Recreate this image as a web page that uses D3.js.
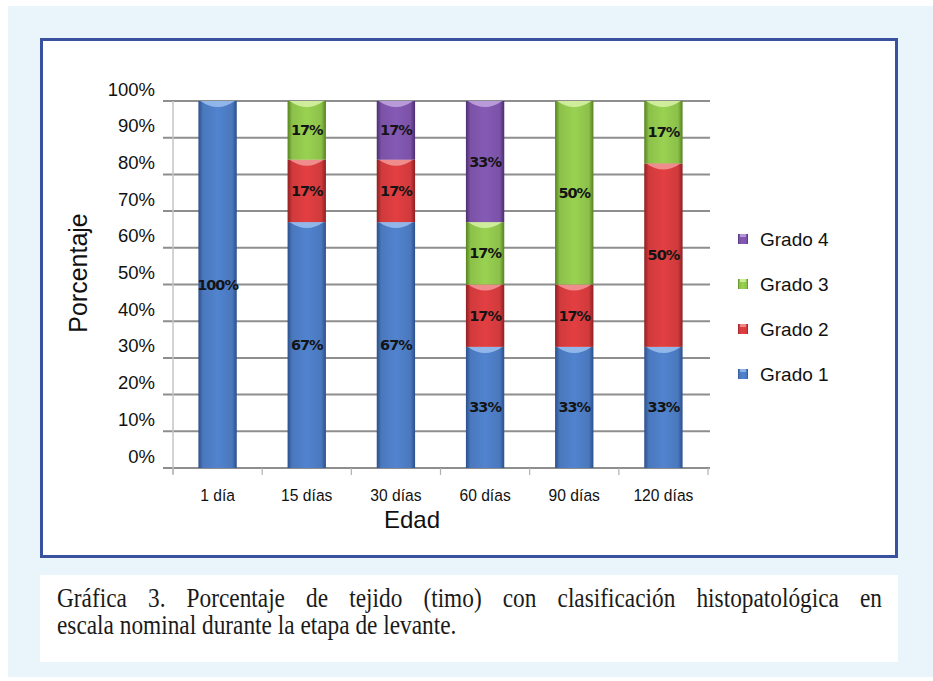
<!DOCTYPE html>
<html>
<head>
<meta charset="utf-8">
<script src="https://cdn.jsdelivr.net/npm/d3@7"></script>
<style>
  html, body { margin: 0; padding: 0; background: #ffffff; }
  svg { display: block; }
  .sans { font-family: "Liberation Sans", Arial, Helvetica, sans-serif; }
  .serif { font-family: "Liberation Serif", "Times New Roman", Times, serif; }
  .value { font-family: "DejaVu Sans", Verdana, sans-serif; }
</style>
</head>
<body>
<svg id="chart" width="933" height="681"></svg>
<script>
// Age groups and histopathology grade shares (%)
const categories = ["1 día", "15 días", "30 días", "60 días", "90 días", "120 días"];
const seriesNames = ["Grado 1", "Grado 2", "Grado 3", "Grado 4"];
const grado1 = [100, 67, 67, 33, 33, 33];
const grado2 = [0, 17, 17, 17, 17, 50];
const grado3 = [0, 17, 0, 17, 50, 17];
const grado4 = [0, 0, 17, 33, 0, 0];
const yTicks = [0, 10, 20, 30, 40, 50, 60, 70, 80, 90, 100];
const captionLines = [
  "Gráfica 3. Porcentaje de tejido (timo) con clasificación histopatológica en",
  "escala nominal durante la etapa de levante."
];

const colors = {
  "Grado 1": { base: "#4a78bd", dark: "#2c4f8c", light: "#9cc0ee" },
  "Grado 2": { base: "#d03a3c", dark: "#8e1f22", light: "#f29a9a" },
  "Grado 3": { base: "#8cc04a", dark: "#55821f", light: "#d8f2a8" },
  "Grado 4": { base: "#7a52a6", dark: "#4c2d72", light: "#c2a6e0" }
};

const svg = d3.select("#chart");

// Page backdrop and panels
svg.append("rect").attr("x", 0).attr("y", 0).attr("width", 933).attr("height", 681).attr("fill", "#ffffff");
svg.append("rect").attr("x", 8).attr("y", 6).attr("width", 925).attr("height", 671).attr("fill", "#eaf4fb");
svg.append("rect").attr("x", 41.5).attr("y", 39.5).attr("width", 855).attr("height", 517)
  .attr("fill", "#ffffff").attr("stroke", "#3a51a0").attr("stroke-width", 3);
svg.append("rect").attr("x", 40).attr("y", 575).attr("width", 858).attr("height", 87).attr("fill", "#ffffff");

// Gradients giving the bars a rounded, bevelled look
const defs = svg.append("defs");
seriesNames.forEach((s, i) => {
  const c = colors[s];
  const g = defs.append("linearGradient").attr("id", "grad" + i)
    .attr("x1", "0%").attr("x2", "100%").attr("y1", "0%").attr("y2", "0%");
  g.append("stop").attr("offset", "0%").attr("stop-color", c.dark);
  g.append("stop").attr("offset", "12%").attr("stop-color", c.base);
  g.append("stop").attr("offset", "50%").attr("stop-color", d3.color(c.base).brighter(0.25));
  g.append("stop").attr("offset", "88%").attr("stop-color", c.base);
  g.append("stop").attr("offset", "100%").attr("stop-color", c.dark);
});

// Scales (clamped so rounded shares never poke above 100 %)
const x = d3.scaleBand().domain(categories).range([173, 708]).paddingInner(0.57).paddingOuter(0.285);
const xBounds = d3.scaleLinear().domain([0, categories.length]).range([173, 708]);
const y = d3.scaleLinear().domain([0, 100]).range([468, 101]).clamp(true);

const g = svg.append("g");

// Horizontal gridlines with short outer ticks
g.append("g").selectAll("line").data(yTicks).join("line")
  .attr("x1", 163).attr("x2", 710)
  .attr("y1", d => y(d)).attr("y2", d => y(d))
  .attr("stroke", "#8e8e8e").attr("stroke-width", 2);

// Vertical axis line
g.append("line").attr("x1", 173).attr("x2", 173).attr("y1", y(100)).attr("y2", y(0) + 6)
  .attr("stroke", "#c4c4c4").attr("stroke-width", 1.5);

// Category boundary ticks below the floor
g.append("g").selectAll("line").data(d3.range(categories.length + 1)).join("line")
  .attr("x1", d => xBounds(d)).attr("x2", d => xBounds(d))
  .attr("y1", y(0)).attr("y2", y(0) + 7)
  .attr("stroke", "#b0b0b0").attr("stroke-width", 1.2);

// Y tick labels
g.append("g").selectAll("text").data(yTicks).join("text")
  .attr("class", "sans")
  .attr("x", 155).attr("y", d => y(d) - 12)
  .attr("text-anchor", "end").attr("dominant-baseline", "central")
  .attr("font-size", 18.5)
  .attr("fill", "#111").text(d => d + "%");

// Stacked data
const table = categories.map((c, i) => ({
  cat: c, "Grado 1": grado1[i], "Grado 2": grado2[i], "Grado 3": grado3[i], "Grado 4": grado4[i]
}));
const stacked = d3.stack().keys(seriesNames)(table);

stacked.forEach((layer, si) => {
  const s = seriesNames[si];
  const lg = g.append("g");
  layer.forEach(d => {
    const v = d[1] - d[0];
    if (v <= 0) return;
    const x0 = x(d.data.cat), w = x.bandwidth();
    const yTop = y(d[1]), yBot = y(d[0]);
    lg.append("rect").attr("x", x0).attr("y", yTop).attr("width", w).attr("height", yBot - yTop)
      .attr("fill", `url(#grad${si})`);
    // light cap at the top of each segment
    lg.append("path")
      .attr("d", `M${x0 + 2},${yTop} L${x0 + w - 2},${yTop} Q${x0 + w / 2},${yTop + 12} ${x0 + 2},${yTop} Z`)
      .attr("fill", colors[s].light).attr("opacity", 0.85);
    lg.append("text")
      .attr("class", "value")
      .attr("x", x0 + w / 2).attr("y", (yTop + yBot) / 2)
      .attr("text-anchor", "middle").attr("dominant-baseline", "central")
      .attr("font-weight", "bold")
      .attr("font-size", 14.5).attr("letter-spacing", -1)
      .attr("fill", "#141414").text(v + "%");
  });
});

// X labels (slightly condensed) and axis titles
g.append("g").selectAll("text").data(categories).join("text")
  .attr("class", "sans")
  .attr("transform", d => `translate(${x(d) + x.bandwidth() / 2},495) scale(0.92,1)`)
  .attr("text-anchor", "middle").attr("dominant-baseline", "central")
  .attr("font-size", 17).attr("fill", "#111").text(d => d);

svg.append("text").attr("class", "sans").attr("x", 412).attr("y", 519)
  .attr("text-anchor", "middle").attr("dominant-baseline", "central")
  .attr("font-size", 24)
  .attr("fill", "#111").text("Edad");

svg.append("text").attr("class", "sans").attr("transform", "translate(78,273) rotate(-90)")
  .attr("text-anchor", "middle").attr("dominant-baseline", "central")
  .attr("font-size", 25)
  .attr("fill", "#111").text("Porcentaje");

// Legend (highest grade on top)
const legendY = { "Grado 4": 239, "Grado 3": 284, "Grado 2": 329, "Grado 1": 374 };
const leg = svg.append("g");
seriesNames.forEach((s, si) => {
  const ly = legendY[s];
  leg.append("rect").attr("x", 738).attr("y", ly - 5).attr("width", 10).attr("height", 10)
    .attr("fill", `url(#grad${si})`);
  leg.append("rect").attr("x", 740).attr("y", ly - 5).attr("width", 6).attr("height", 3)
    .attr("fill", colors[s].light).attr("opacity", 0.8);
  leg.append("text").attr("class", "sans").attr("x", 760).attr("y", ly)
    .attr("dominant-baseline", "central")
    .attr("font-size", 19)
    .attr("fill", "#111").text(s);
});

// Caption in a condensed serif; first line justified by widening the word gaps
const capScale = 0.88;
const cap = svg.append("g").attr("transform", `translate(57,0) scale(${capScale},1)`);
const cap1 = cap.append("text").attr("class", "serif").attr("x", 0).attr("y", 607)
  .attr("font-size", 26.5).attr("fill", "#1a1a1a").text(captionLines[0]);
const natural = cap1.node().getComputedTextLength();
const gaps = captionLines[0].split(" ").length - 1;
const extra = Math.max(0, (825 / capScale - natural) / gaps);
cap1.attr("word-spacing", extra);
cap.append("text").attr("class", "serif").attr("x", 0).attr("y", 634)
  .attr("font-size", 26.5).attr("fill", "#1a1a1a").text(captionLines[1]);
</script>
</body>
</html>
